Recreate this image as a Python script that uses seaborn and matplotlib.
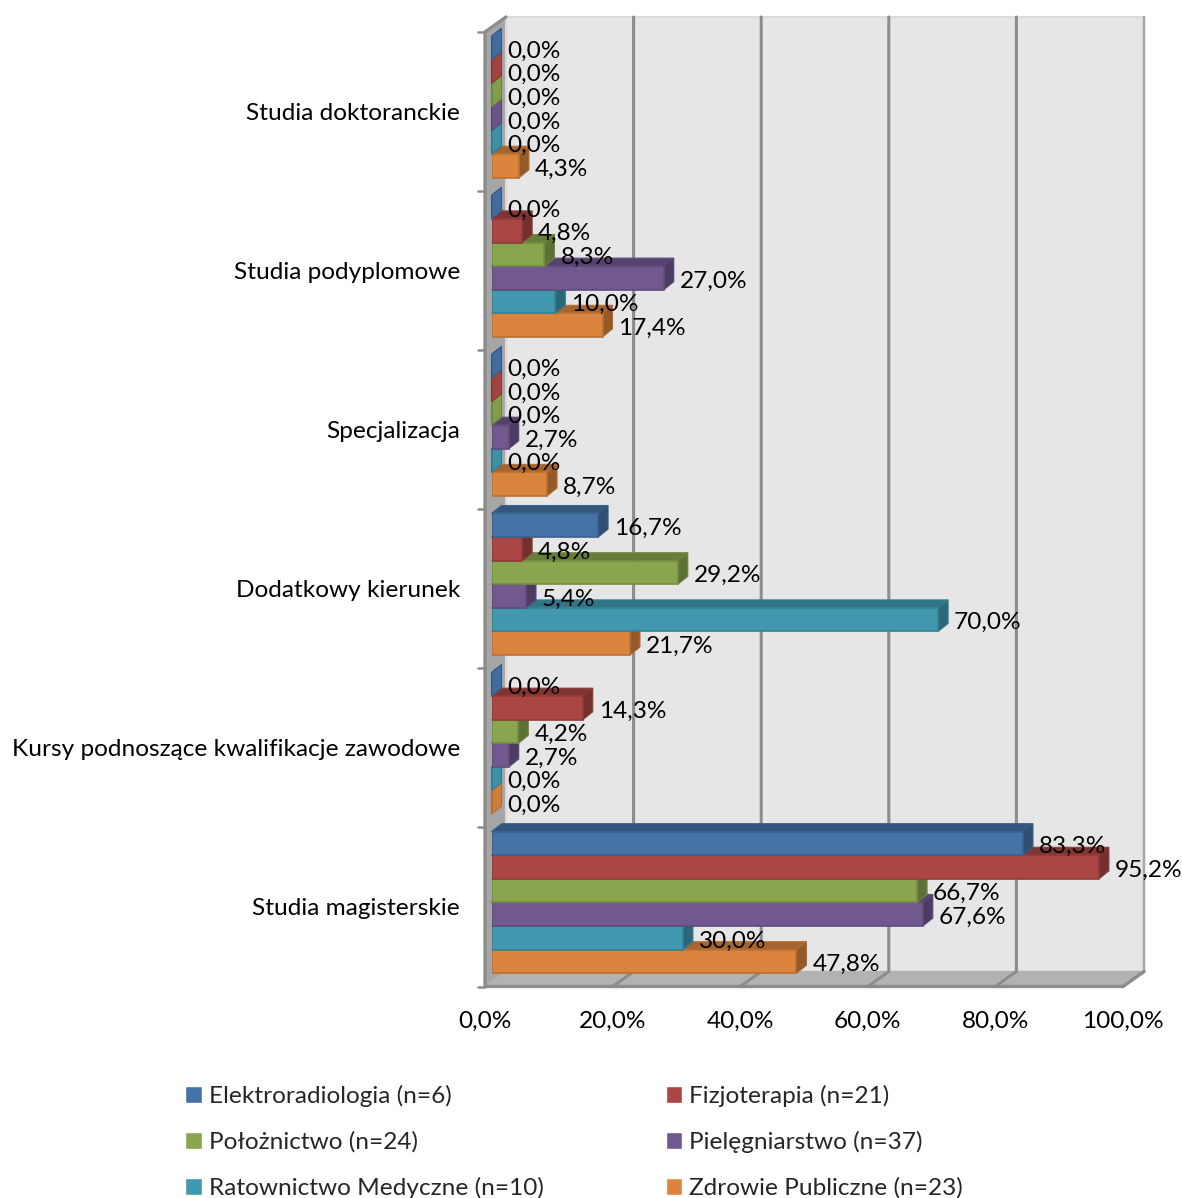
#!/usr/bin/env python
import matplotlib
matplotlib.use("Agg")
import matplotlib.pyplot as plt
import numpy as np
import pandas as pd
import seaborn as sns
from matplotlib.colors import to_rgb
from matplotlib.patches import Polygon
from matplotlib.transforms import Affine2D, IdentityTransform

kategorie = ["Studia doktoranckie", "Studia podyplomowe", "Specjalizacja",
             "Dodatkowy kierunek", "Kursy podnoszące kwalifikacje zawodowe",
             "Studia magisterskie"]
kierunki = ["Elektroradiologia (n=6)", "Fizjoterapia (n=21)", "Położnictwo (n=24)",
            "Pielęgniarstwo (n=37)", "Ratownictwo Medyczne (n=10)", "Zdrowie Publiczne (n=23)"]
elektroradiologia = [0.0, 0.0, 0.0, 16.7, 0.0, 83.3]
fizjoterapia = [0.0, 4.8, 0.0, 4.8, 14.3, 95.2]
poloznictwo = [0.0, 8.3, 0.0, 29.2, 4.2, 66.7]
pielegniarstwo = [0.0, 27.0, 2.7, 5.4, 2.7, 67.6]
ratownictwo = [0.0, 10.0, 0.0, 70.0, 0.0, 30.0]
zdrowie = [4.3, 17.4, 8.7, 21.7, 0.0, 47.8]
kolory = ["#4572A7", "#AA4643", "#89A54E", "#71588F", "#4198AF", "#DB843D"]
xticki = [0, 20, 40, 60, 80, 100]

serie = [elektroradiologia, fizjoterapia, poloznictwo, pielegniarstwo, ratownictwo, zdrowie]
df = pd.DataFrame({
    "kategoria": kategorie * len(kierunki),
    "kierunek": [k for k in kierunki for _ in kategorie],
    "procent": np.concatenate(serie),
})


def ciemny(kolor, f):
    return tuple(c * f for c in to_rgb(kolor))


def pl(v):
    return f"{v:.1f}".replace(".", ",") + "%"


sns.set_theme(style="white")
plt.rcParams["font.family"] = ["Lato", "DejaVu Sans"]
ROZMIAR = 17.6

fig = plt.figure(figsize=(11.82, 11.98), dpi=100, facecolor="white")
ax = fig.add_axes([491.5 / 1182, (1198 - 982) / 1198, 638 / 1182, 954.5 / 1198])
sns.barplot(data=df, y="kategoria", x="procent", hue="kierunek", order=kategorie,
            hue_order=kierunki, palette=kolory, saturation=1, width=0.89, gap=0,
            errorbar=None, ax=ax)
ax.set_xlim(0, 100)
ax.set_ylim(5.5, -0.5)
ax.patch.set_visible(False)
sns.despine(ax=ax, left=True, bottom=True)
ax.set_xlabel("")
ax.set_ylabel("")


def px(x, y, dx=0, dy=0):
    return ax.transData.transform((x, y)) + (dx, dy)


def wielokat(punkty, zorder, **kw):
    ax.add_patch(Polygon(np.array(punkty), closed=True, transform=IdentityTransform(),
                         clip_on=False, zorder=zorder, **kw))


# przesuniecia scian wzgledem przedniej plaszczyzny slupkow (w pikselach)
PRZOD = (-6.5, -4.5)
TYL = (14.5, 10.5)
GLEB = (10, 8)

wielokat([px(0, -0.5, *PRZOD), px(0, -0.5, *TYL), px(0, 5.5, *TYL), px(0, 5.5, *PRZOD)],
         1, facecolor="#A6A6A6", edgecolor="#A6A6A6", linewidth=1)
wielokat([px(0, -0.5, *TYL), px(100, -0.5, *TYL), px(100, 5.5, *TYL), px(0, 5.5, *TYL)],
         1, facecolor="#E6E6E6", edgecolor="#DADADA", linewidth=1.5)
wielokat([px(0, 5.5, *PRZOD), px(100, 5.5, *PRZOD), px(100, 5.5, *TYL), px(0, 5.5, *TYL)],
         1.5, facecolor="#B2B2B2", edgecolor="#B2B2B2", linewidth=1)

for v in xticki[1:]:
    a, b, c = px(v, -0.5, *TYL), px(v, 5.5, *TYL), px(v, 5.5, *PRZOD)
    ax.plot([a[0], b[0], c[0]], [a[1], b[1], c[1]],
            color="#8C8C8C" if v != 100 else "#A6A6A6",
            lw=2.2 if v != 100 else 1.8, transform=IdentityTransform(), clip_on=False,
            zorder=2, solid_joinstyle="miter")

# krawedzie osi i znaczniki kategorii
k1, k2, k3, k4, k5 = (px(0, -0.5, *TYL), px(0, -0.5, *PRZOD), px(0, 5.5, *PRZOD),
                      px(100, 5.5, *PRZOD), px(100, 5.5, *TYL))
ax.plot([k1[0], k2[0], k3[0], k4[0], k5[0]], [k1[1], k2[1], k3[1], k4[1], k5[1]],
        color="#8C8C8C", lw=2.4, transform=IdentityTransform(), clip_on=False, zorder=3,
        solid_joinstyle="miter")
for y in np.arange(-0.5, 6):
    p = px(0, y, *PRZOD)
    ax.plot([p[0] - 7, p[0]], [p[1], p[1]], color="#8C8C8C", lw=1.8,
            transform=IdentityTransform(), clip_on=False, zorder=3)

# slupki: przod z seaborna, boki i gora dorysowane z ich wymiarow
n = len(ax.containers)
for i, (kont, kolor) in enumerate(zip(ax.containers, kolory)):
    z = 10 + 2 * (n - i)
    for bar in kont:
        x1 = bar.get_width()
        y0, y1 = bar.get_y(), bar.get_y() + bar.get_height()
        bar.set_zorder(z + 1)
        bar.set_edgecolor(ciemny(kolor, 0.85))
        bar.set_linewidth(1.2)
        wielokat([px(0, y0), px(x1, y0), px(x1, y0, *GLEB), px(0, y0, *GLEB)], z,
                 facecolor=ciemny(kolor, 0.76), edgecolor=ciemny(kolor, 0.85), linewidth=0.8)
        # puste slupki w oryginale sa jasniejsze w srodku
        bok = ciemny(kolor, 0.68) if x1 > 0 else ciemny(kolor, 0.95)
        wielokat([px(x1, y0), px(x1, y0, *GLEB), px(x1, y1, *GLEB), px(x1, y1)], z,
                 facecolor=bok, edgecolor=ciemny(kolor, 0.8), linewidth=0.8)
    wart = [bar.get_width() for bar in kont]
    for t in ax.bar_label(kont, labels=[pl(v) for v in wart], padding=11.5,
                          fontsize=ROZMIAR, color="black"):
        t.xyann = (t.xyann[0], t.xyann[1] - 2.2)
        t.set_zorder(50)

ax.tick_params(axis="y", length=0, pad=22.7, labelsize=ROZMIAR, labelcolor="black")
for t in ax.get_yticklabels():
    t.set_transform(t.get_transform() + Affine2D().translate(0, -4.5))
ax.set_xticks(xticki)
ax.set_xticklabels([pl(v) for v in xticki], fontsize=ROZMIAR, color="black")
ax.tick_params(axis="x", length=0, pad=21)
for t in ax.get_xticklabels():
    t.set_transform(t.get_transform() + Affine2D().translate(PRZOD[0], 0))

uchwyty, etykiety = ax.get_legend_handles_labels()
kolej = [0, 2, 4, 1, 3, 5]
leg = ax.legend([uchwyty[i] for i in kolej], [etykiety[i] for i in kolej], ncol=2,
                loc="lower left", bbox_to_anchor=(178 / 1182, -8 / 1198),
                bbox_transform=fig.transFigure, frameon=False, fontsize=ROZMIAR,
                handlelength=0.68, handleheight=0.7, handletextpad=0.27,
                labelspacing=0.98, columnspacing=5.0, borderaxespad=0, borderpad=0.3)

fig.savefig("out.png", dpi=100)
